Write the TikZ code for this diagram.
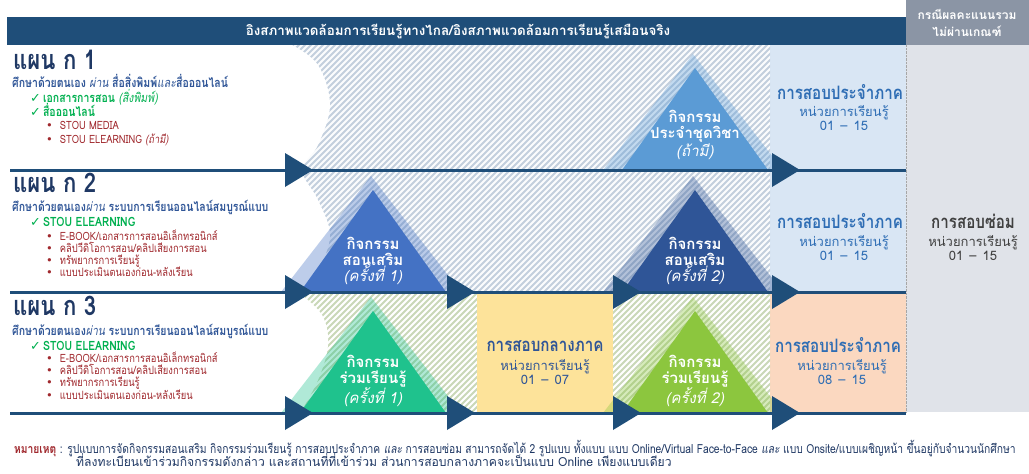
\documentclass[tikz,border=0pt]{standalone}
\usepackage{fontspec}
\setmainfont[Script=Thai]{Loma}
\newfontfamily\cond[Script=Thai,FakeStretch=0.82]{Loma}
\newfontfamily\condb[Script=Thai,FakeStretch=0.97]{Loma}
\newfontfamily\sym{DejaVu Sans}
\definecolor{navyL}{HTML}{1F4E79}
\definecolor{navyT}{HTML}{1F3864}
\definecolor{blueT}{HTML}{2F5597}
\definecolor{examT}{HTML}{2E6DB4}
\definecolor{greenT}{HTML}{00B050}
\definecolor{redT}{HTML}{A0282D}
\definecolor{colBlue}{HTML}{D9E6F4}
\definecolor{colPeach}{HTML}{FBD8C0}
\definecolor{colGray}{HTML}{E0E3E9}
\definecolor{hdrGray}{HTML}{8B95A5}
\definecolor{hatchA}{HTML}{C3CFDD}
\definecolor{hatchG}{HTML}{C9D8B8}
\definecolor{triA}{HTML}{5B9BD5}
\definecolor{triB}{HTML}{4472C4}
\definecolor{triC}{HTML}{2F5597}
\definecolor{triD}{HTML}{1FC28D}
\definecolor{triE}{HTML}{8CC63E}
\definecolor{yellowC}{HTML}{FDE39A}
\definecolor{grayT}{HTML}{404040}
\tikzset{
  mainline/.style={draw=navyL, line width=3pt},
  arrowhd/.pic={\fill[navyL] (0,-17) -- (28,0) -- (0,17) -- cycle;},
  tri/.pic={\fill[#1,opacity=0.35] (-2,-116) -- (-92,0) -- (88,0) -- cycle;
            \fill[#1] (0,-102) -- (-73,0) -- (73,0) -- cycle;},
  plantitle/.style={anchor=west, inner sep=0pt, text=navyT, text height=18pt, text depth=1pt, font=\cond\bfseries\fontsize{27}{29}\selectfont},
  subline/.style={anchor=west, inner sep=0pt, text=blueT, text height=9pt, text depth=3pt, font=\cond\bfseries\fontsize{12.8}{14}\selectfont},
  chkline/.style={anchor=west, inner sep=0pt, text=greenT, text height=9pt, text depth=3pt, font=\cond\bfseries\fontsize{12.8}{14}\selectfont},
  bulline/.style={anchor=west, inner sep=0pt, text=redT, text height=8pt, text depth=2.5pt, font=\cond\fontsize{11.4}{13}\selectfont},
  tritext/.style={align=center, inner sep=0pt, text=white, font=\bfseries\fontsize{15}{16.2}\selectfont},
  examhead/.style={inner sep=0pt, text=examT, text height=11pt, text depth=2pt, font=\cond\bfseries\fontsize{18.5}{20}\selectfont},
  examsub/.style={align=center, inner sep=0pt, text=examT, font=\fontsize{13}{14}\selectfont},
  hatchline/.style={line width=1.8pt},
  notetext/.style={anchor=west, inner sep=0pt, text=navyT, text height=8pt, text depth=2pt, font=\cond\fontsize{12.5}{12.5}\selectfont}
}
\newcommand\rng[2]{#1\hspace{6pt}--\hspace{6pt}#2}
\begin{document}
\begin{tikzpicture}[x=1pt,y=-1pt]
\useasboundingbox (0,0) rectangle (1029,474);
\fill[white] (0,0) rectangle (1029,474);
% columns
\fill[colBlue] (770,45) rectangle (906,292);
\fill[colPeach] (770,292) rectangle (906,412);
\fill[colGray] (906,45) rectangle (1029,412);
\draw[gray!70, densely dotted] (906,45) -- (906,412);
\fill[hdrGray] (906,0) rectangle (1029,45);
\fill[navyL] (7,17) rectangle (906,45);
% hatch rows 1-2
\begin{scope}
\clip (285,45) rectangle (770,292);
\fill[white!94!hatchA] (285,45) rectangle (770,292);
\foreach \i in {25,31,...,775} \draw[hatchline, hatchA] (\i,295) -- ++(260,-260);
\end{scope}
% hatch row 3
\begin{scope}
\clip (285,292) rectangle (770,413);
\foreach \i in {150,156,...,775} \draw[hatchline, hatchG] (\i,416) -- ++(130,-130);
\end{scope}
% white blobs
\fill[white] (280,45) -- plot[smooth,tension=0.6] coordinates {(292,45) (318,65) (330,105) (318,145) (302,170) (318,200) (330,235) (318,270) (298,292)} -- (280,292) -- cycle;
\fill[white] (280,292) -- plot[smooth,tension=0.6] coordinates {(298,292) (322,315) (328,345) (318,380) (300,413)} -- (280,413) -- cycle;
% yellow box
\node[fill=yellowC, minimum width=136pt, minimum height=119pt, inner sep=0pt] (midbox) at (545,352.5) {};
% triangles
\pic at (695,170) {tri=triA};
\pic at (373,292) {tri=triB};
\pic at (695,292) {tri=triC};
\pic at (373,413) {tri=triD};
\pic at (695,413) {tri=triE};
% lines
\coordinate (l1s) at (10,170); \coordinate (l1e) at (906,170);
\coordinate (l2s) at (10,292); \coordinate (l2e) at (906,292);
\coordinate (l3s) at (10,413); \coordinate (l3e) at (906,413);
\draw[mainline] (l1s) -- (l1e);
\draw[mainline] (l2s) -- (l2e);
\draw[mainline] (l3s) -- (l3e);
% arrowheads
\foreach \x in {285,772} \pic at (\x,170) {arrowhd};
\foreach \x in {285,447,613,772} \pic at (\x,292) {arrowhd};
\foreach \x in {285,447,613,772} \pic at (\x,413) {arrowhd};
% headers
\node[inner sep=0pt, text=white, font=\bfseries\fontsize{13.4}{15}\selectfont] (hdr) at (458,31) {อิงสภาพแวดล้อมการเรียนรู้ทางไกล/อิงสภาพแวดล้อมการเรียนรู้เสมือนจริง};
\node[align=center, inner sep=0pt, text=white, font=\bfseries\fontsize{12}{17}\selectfont] (hdr2) at (967,23) {กรณีผลคะแนนรวม\\ไม่ผ่านเกณฑ์};
% plan 1
\node[plantitle] (p1) at (13,61) {แผน ก 1};
\node[subline] (p1s) at (12,84) {ศึกษาด้วยตนเอง \textit{\mdseries ผ่าน} สื่อสิ่งพิมพ์\textit{\mdseries และ}สื่อออนไลน์};
\node[chkline] (p1c1) at (30,99) {{\sym ✓}\,เอกสารการสอน \textit{\mdseries (สิ่งพิมพ์)}};
\node[chkline] (p1c2) at (30,113) {{\sym ✓}\,สื่อออนไลน์};
\node[bulline] (p1b1) at (46,127) {{\sym •}\hspace{7pt}STOU MEDIA};
\node[bulline] (p1b2) at (46,141) {{\sym •}\hspace{7pt}STOU ELEARNING \textit{(ถ้ามี)}};
% plan 2
\node[plantitle] (p2) at (13,184) {แผน ก 2};
\node[subline] (p2s) at (12,208) {ศึกษาด้วยตนเอง\textit{\mdseries ผ่าน} ระบบการเรียนออนไลน์สมบูรณ์แบบ};
\node[chkline] (p2c) at (30,223) {{\sym ✓}\,STOU ELEARNING};
\node[bulline] (p2b1) at (46,238) {{\sym •}\hspace{7pt}E-BOOK/เอกสารการสอนอิเล็กทรอนิกส์};
\node[bulline] (p2b2) at (46,250) {{\sym •}\hspace{7pt}คลิปวีดิโอการสอน/คลิปเสียงการสอน};
\node[bulline] (p2b3) at (46,262) {{\sym •}\hspace{7pt}ทรัพยากรการเรียนรู้};
\node[bulline] (p2b4) at (46,274) {{\sym •}\hspace{7pt}แบบประเมินตนเองก่อน-หลังเรียน};
% plan 3
\node[plantitle] (p3) at (13,307) {แผน ก 3};
\node[subline] (p3s) at (12,332) {ศึกษาด้วยตนเอง\textit{\mdseries ผ่าน} ระบบการเรียนออนไลน์สมบูรณ์แบบ};
\node[chkline] (p3c) at (30,347) {{\sym ✓}\,STOU ELEARNING};
\node[bulline] (p3b1) at (46,360) {{\sym •}\hspace{7pt}E-BOOK/เอกสารการสอนอิเล็กทรอนิกส์};
\node[bulline] (p3b2) at (46,372) {{\sym •}\hspace{7pt}คลิปวีดิโอการสอน/คลิปเสียงการสอน};
\node[bulline] (p3b3) at (46,384) {{\sym •}\hspace{7pt}ทรัพยากรการเรียนรู้};
\node[bulline] (p3b4) at (46,397) {{\sym •}\hspace{7pt}แบบประเมินตนเองก่อน-หลังเรียน};
% triangle texts
\node[tritext] (t1) at (695,135) {กิจกรรม\\ประจำชุดวิชา\\\textit{\mdseries (ถ้ามี)}};
\node[tritext] (t2) at (373,261) {กิจกรรม\\สอนเสริม\\\textit{\mdseries (ครั้งที่ 1)}};
\node[tritext] (t3) at (695,261) {กิจกรรม\\สอนเสริม\\\textit{\mdseries (ครั้งที่ 2)}};
\node[tritext] (t4) at (373,381) {กิจกรรม\\ร่วมเรียนรู้\\\textit{\mdseries (ครั้งที่ 1)}};
\node[tritext] (t5) at (695,381) {กิจกรรม\\ร่วมเรียนรู้\\\textit{\mdseries (ครั้งที่ 2)}};
% exams
\node[examhead] (e1) at (840,95) {การสอบประจำภาค};
\node[examsub] (e1s) at (844,118) {หน่วยการเรียนรู้\\\rng{01}{15}};
\node[examhead] (e2) at (840,224) {การสอบประจำภาค};
\node[examsub] (e2s) at (844,248) {หน่วยการเรียนรู้\\\rng{01}{15}};
\node[examhead] (e3) at (838,348) {การสอบประจำภาค};
\node[examsub] (e3s) at (842,372) {หน่วยการเรียนรู้\\\rng{08}{15}};
\node[examhead, text=blueT] (em) at (545,347) {การสอบกลางภาค};
\node[examsub, text=blueT] (ems) at (545,372) {หน่วยการเรียนรู้\\\rng{01}{07}};
\node[examhead, text=grayT] (er) at (973,224) {การสอบซ่อม};
\node[examsub, text=grayT] (ers) at (973,248) {หน่วยการเรียนรู้\\\rng{01}{15}};
% note
\node[notetext] (n1) at (14,450) {{\bfseries\color{redT}หมายเหตุ} : รูปแบบการจัดกิจกรรมสอนเสริม กิจกรรมร่วมเรียนรู้ การสอบประจำภาค \textit{และ} การสอบซ่อม สามารถจัดได้ 2 รูปแบบ ทั้งแบบ แบบ Online/Virtual Face-to-Face \textit{และ} แบบ Onsite/แบบเผชิญหน้า ขึ้นอยู่กับจำนวนนักศึกษา};
\node[notetext, font=\condb\fontsize{12.5}{12.5}\selectfont] (n2) at (76,463) {ที่ลงทะเบียนเข้าร่วมกิจกรรมดังกล่าว และสถานที่ที่เข้าร่วม ส่วนการสอบกลางภาคจะเป็นแบบ Online เพียงแบบเดียว};
\end{tikzpicture}
\end{document}
